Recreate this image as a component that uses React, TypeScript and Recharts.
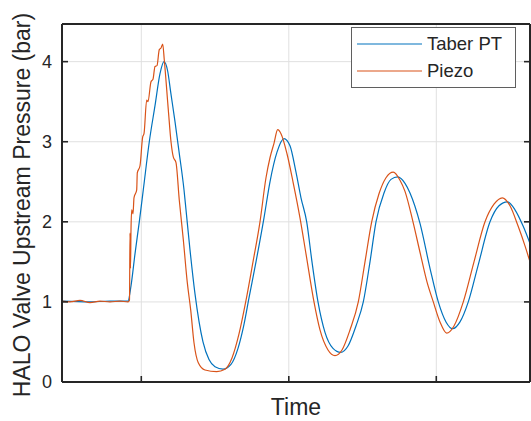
import React from 'react';
import { LineChart, Line, XAxis, YAxis, CartesianGrid, Legend } from 'recharts';

const X_DOMAIN: [number, number] = [0.4624, 3.6353];
const Y_DOMAIN: [number, number] = [0, 4.47];
const X_TICKS = [1, 2, 3];
const Y_TICKS = [0, 1, 2, 3, 4];
const SERIES_NAMES = ['Taber PT', 'Piezo'];
const COLORS = ['#0072BD', '#D95319'];
const X_LABEL = 'Time';
const Y_LABEL = 'HALO Valve Upstream Pressure (bar)';

const taberTime = [
  0.4624, 0.6522, 0.7878, 0.9098, 0.9302, 0.9573, 0.9864, 1.0136, 1.0542, 1.0929,
  1.1268, 1.1539, 1.179, 1.1993, 1.2285, 1.2556, 1.2895, 1.3031, 1.3302, 1.3641,
  1.4183, 1.459, 1.4997, 1.5539, 1.6081, 1.6556, 1.6963, 1.7302, 1.7776, 1.8319,
  1.8725, 1.92, 1.9675, 2.0081, 2.0488, 2.0827, 2.1214, 2.1573, 2.198, 2.2454,
  2.2997, 2.3519, 2.4014, 2.4556, 2.5051, 2.5505, 2.5912, 2.6454, 2.6929, 2.7383,
  2.7878, 2.8217, 2.8895, 2.9573, 3.0136, 3.0658, 3.1112, 3.1607, 3.2169, 3.2827,
  3.3641, 3.4251, 3.4814, 3.5336, 3.5878, 3.6353,
];
const taberPressure = [
  1.01, 1.0, 1.01, 1.01, 1.2, 1.6, 2.0, 2.4, 3.0, 3.45,
  3.85, 4.0, 3.88, 3.62, 3.25, 2.88, 2.4, 2.15, 1.65, 1.1,
  0.5, 0.28, 0.19, 0.16, 0.22, 0.42, 0.72, 1.05, 1.5, 2.05,
  2.5, 2.87, 3.04, 2.95, 2.62, 2.3, 2.0, 1.5, 1.0, 0.62,
  0.42, 0.37, 0.45, 0.7, 1.0, 1.5, 2.0, 2.36, 2.53, 2.56,
  2.48, 2.36, 1.98, 1.42, 1.0, 0.75, 0.665, 0.75, 1.0, 1.45,
  2.0, 2.2, 2.25, 2.15, 1.95, 1.73,
];

const piezoTime = [
  0.4624, 0.5166, 0.5844, 0.6522, 0.72, 0.7878, 0.8556, 0.9098, 0.92, 0.9234,
  0.9268, 0.9302, 0.9349, 0.9437, 0.9505, 0.9688, 0.9729, 0.9912, 1.0095, 1.0183,
  1.0366, 1.0454, 1.0658, 1.0793, 1.0929, 1.1064, 1.122, 1.1336, 1.1451, 1.1559,
  1.1831, 1.2014, 1.2169, 1.2353, 1.2576, 1.2847, 1.3119, 1.3349, 1.3573, 1.3864,
  1.4319, 1.5112, 1.5675, 1.6149, 1.6624, 1.7078, 1.7573, 1.8047, 1.8454, 1.8725,
  1.8997, 1.9247, 1.9471, 1.9878, 2.0285, 2.0759, 2.1166, 2.1708, 2.2115, 2.2658,
  2.3132, 2.3607, 2.4149, 2.4712, 2.5166, 2.562, 2.6115, 2.659, 2.7085, 2.7539,
  2.7878, 2.842, 2.8895, 2.9369, 2.9797, 3.0251, 3.0705, 3.12, 3.1831, 3.2556,
  3.3302, 3.3912, 3.4475, 3.4997, 3.5539, 3.6014, 3.6353,
];
const piezoPressure = [
  1.01, 1.0, 1.02, 0.99, 1.01, 1.0, 1.01, 1.0, 1.02, 1.86,
  1.42, 1.9, 2.15, 2.1, 2.3, 2.4, 2.61, 2.7, 3.06, 3.1,
  3.52, 3.5, 3.75, 3.78, 3.94, 3.95, 4.15, 4.17, 4.22, 4.02,
  3.4, 3.0, 2.81, 2.74, 2.27, 1.78, 1.24, 0.9, 0.49, 0.24,
  0.15, 0.13, 0.16, 0.3, 0.6, 1.0, 1.5, 2.0, 2.55, 2.8,
  2.98, 3.15, 3.1, 2.85, 2.5, 2.05, 1.6, 1.0, 0.65, 0.4,
  0.33, 0.4, 0.65, 1.0, 1.5, 2.0, 2.35, 2.55, 2.62, 2.52,
  2.38, 2.0, 1.62, 1.25, 1.0, 0.75, 0.61, 0.7, 1.0, 1.5,
  2.0, 2.22, 2.3, 2.2, 1.95, 1.7, 1.5,
];

const taberData = taberTime.map((t, i) => ({ t, p: taberPressure[i] }));
const piezoData = piezoTime.map((t, i) => ({ t, p: piezoPressure[i] }));

const AX = '#262626';
const FONT = '"Liberation Sans", Arial, Helvetica, sans-serif';
const TICK_LEN = 6;

const LeftTick = (props: any) => {
  const { x, y, payload } = props;
  return (
    <g>
      <line x1={x} y1={y} x2={x + TICK_LEN} y2={y} stroke={AX} strokeWidth={1.6} />
      <text x={x - 10} y={y} dy="0.36em" textAnchor="end" fontSize={18} fill={AX} fontFamily={FONT}>
        {payload.value}
      </text>
    </g>
  );
};
const RightTick = (props: any) => {
  const { x, y } = props;
  return <line x1={x} y1={y} x2={x - TICK_LEN} y2={y} stroke={AX} strokeWidth={1.6} />;
};
const BottomTick = (props: any) => {
  const { x, y } = props;
  return <line x1={x} y1={y} x2={x} y2={y - TICK_LEN} stroke={AX} strokeWidth={1.6} />;
};
const TopTick = (props: any) => {
  const { x, y } = props;
  return <line x1={x} y1={y} x2={x} y2={y + TICK_LEN} stroke={AX} strokeWidth={1.6} />;
};

const LegendBox = () => (
  <div
    style={{
      width: 165,
      height: 61,
      boxSizing: 'border-box',
      border: '1px solid #5f5f5f',
      background: '#fff',
      position: 'relative',
      fontFamily: FONT,
    }}
  >
    {SERIES_NAMES.map((name, i) => (
      <div
        key={name}
        style={{
          position: 'absolute',
          left: -1,
          top: 16 + i * 27 - 12,
          height: 24,
          display: 'flex',
          alignItems: 'center',
          whiteSpace: 'nowrap',
        }}
      >
        <svg width={76} height={24} style={{ display: 'block' }}>
          <line x1={6} x2={71} y1={12} y2={12} stroke={COLORS[i]} strokeWidth={1.2} />
        </svg>
        <span style={{ fontSize: 18.5, color: AX, lineHeight: '24px' }}>{name}</span>
      </div>
    ))}
  </div>
);

export default function App() {
  return (
    <div style={{ position: 'absolute', left: 0, top: 0, width: 531, height: 421, background: '#fff' }}>
      <LineChart width={531} height={421} margin={{ top: 23, right: 0, bottom: 0, left: 0 }}>
        <CartesianGrid stroke="#e0e0e0" strokeWidth={1} />
        <XAxis
          type="number"
          dataKey="t"
          domain={X_DOMAIN}
          ticks={X_TICKS}
          allowDataOverflow
          interval={0}
          height={39}
          tickSize={0}
          tickMargin={0}
          tickLine={false}
          axisLine={{ stroke: AX, strokeWidth: 2 }}
          tick={BottomTick}
          label={() => (
            <text x={296} y={415} textAnchor="middle" fontSize={23} fill={AX} fontFamily={FONT}>
              {X_LABEL}
            </text>
          )}
        />
        <XAxis
          xAxisId="top"
          orientation="top"
          type="number"
          domain={X_DOMAIN}
          ticks={X_TICKS}
          allowDataOverflow
          interval={0}
          height={1}
          tickSize={0}
          tickMargin={0}
          tickLine={false}
          axisLine={{ stroke: AX, strokeWidth: 2 }}
          tick={TopTick}
        />
        <YAxis
          type="number"
          domain={Y_DOMAIN}
          ticks={Y_TICKS}
          allowDataOverflow
          interval={0}
          width={62}
          tickSize={0}
          tickMargin={0}
          tickLine={false}
          axisLine={{ stroke: AX, strokeWidth: 2 }}
          tick={LeftTick}
          label={() => (
            <text
              x={22}
              y={205}
              transform="rotate(-90 22 205)"
              textAnchor="middle"
              dominantBaseline="central"
              fontSize={23}
              fill={AX}
              fontFamily={FONT}
            >
              {Y_LABEL}
            </text>
          )}
        />
        <YAxis
          yAxisId="right"
          orientation="right"
          type="number"
          domain={Y_DOMAIN}
          ticks={Y_TICKS}
          allowDataOverflow
          interval={0}
          width={1}
          tickSize={0}
          tickMargin={0}
          tickLine={false}
          axisLine={{ stroke: AX, strokeWidth: 2 }}
          tick={RightTick}
        />
        <Line
          data={taberData}
          dataKey="p"
          name={SERIES_NAMES[0]}
          type="monotone"
          stroke={COLORS[0]}
          strokeWidth={1.2}
          dot={false}
          isAnimationActive={false}
        />
        <Line
          data={piezoData}
          dataKey="p"
          name={SERIES_NAMES[1]}
          type="monotone"
          stroke={COLORS[1]}
          strokeWidth={1.2}
          dot={false}
          isAnimationActive={false}
        />
        <Legend
          layout="horizontal"
          verticalAlign="middle"
          align="center"
          width={165}
          height={61}
          wrapperStyle={{ position: 'absolute', left: 351, top: 27, width: 165, height: 61 }}
          content={() => <LegendBox />}
        />
      </LineChart>
    </div>
  );
}
